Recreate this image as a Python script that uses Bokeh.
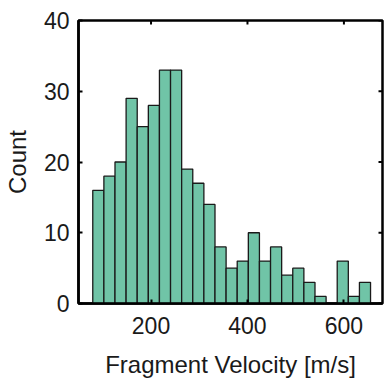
import math
from bokeh.plotting import figure
from bokeh.models import Range1d, FixedTicker, ColumnDataSource
from bokeh.embed import file_html
from bokeh.resources import INLINE

# data
counts = [16, 18, 20, 29, 25, 28, 33, 33, 19, 17, 14, 8, 5, 6, 10, 6, 8, 4, 5, 3, 1, 0, 6, 1, 3]
bin_start = 79.2
bin_width = 23.04
x_ticks = [200, 400, 600]
y_ticks = [0, 10, 20, 30, 40]
x_lim = (49.6, 680)
y_lim = (0, 40)

lefts = [bin_start + i * bin_width for i in range(len(counts))]
rights = [l + bin_width for l in lefts]
src = ColumnDataSource(dict(left=lefts, right=rights, top=counts, bottom=[0] * len(counts)))

FONT = "Liberation Sans"
FS = "23px"
FS_LABEL = "24px"

p = figure(width=384, height=381, output_backend="svg", toolbar_location=None,
           x_range=Range1d(*x_lim), y_range=Range1d(*y_lim),
           min_border_left=78, min_border_right=2, min_border_top=20, min_border_bottom=78)
p.frame_width = 304
p.frame_height = 283

p.quad(left="left", right="right", top="top", bottom="bottom", source=src,
       fill_color="#70c4a7", line_color="#1a1a1a", line_width=1.3)

# inward ticks on the top and right edges of the box
p.ray(x=x_ticks, y=[y_lim[1]] * len(x_ticks), length=4, length_units="screen",
      angle=-math.pi / 2, line_color="black", line_width=2)
p.ray(x=[x_lim[1]] * len(y_ticks), y=y_ticks, length=4, length_units="screen",
      angle=math.pi, line_color="black", line_width=2)

p.grid.visible = False
p.outline_line_color = "black"
p.outline_line_width = 2.5
p.background_fill_color = "white"
p.border_fill_color = "white"

for ax in (p.xaxis[0], p.yaxis[0]):
    ax.axis_line_width = 2.5
    ax.major_tick_in = 4
    ax.major_tick_out = 0
    ax.major_tick_line_width = 2
    ax.minor_tick_line_color = None
    ax.major_label_text_font = FONT
    ax.major_label_text_font_size = FS
    ax.major_label_text_color = "#1a1a1a"
    ax.axis_label_text_font = FONT
    ax.axis_label_text_font_size = FS_LABEL
    ax.axis_label_text_font_style = "normal"
    ax.axis_label_text_color = "#1a1a1a"

p.xaxis[0].ticker = FixedTicker(ticks=x_ticks)
p.yaxis[0].ticker = FixedTicker(ticks=y_ticks)
p.xaxis[0].axis_label = "Fragment Velocity [m/s]"
p.yaxis[0].axis_label = "Count"
p.xaxis[0].major_label_standoff = 13
p.yaxis[0].major_label_standoff = 9
p.xaxis[0].axis_label_standoff = 14
p.yaxis[0].axis_label_standoff = 10

open("out.html", "w").write(file_html(p, INLINE))
